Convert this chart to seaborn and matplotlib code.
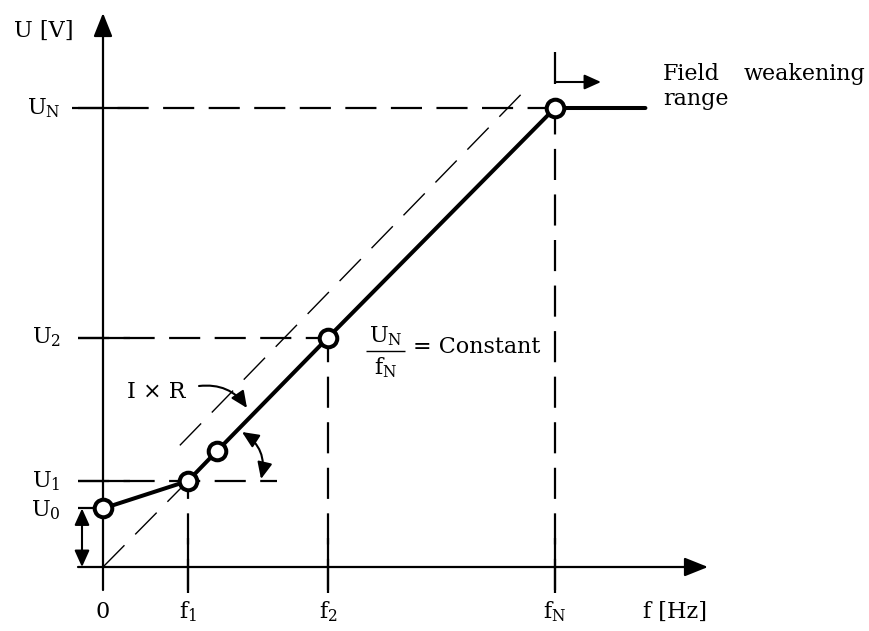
import seaborn as sns
import matplotlib.pyplot as plt
import pandas as pd

# U/f characteristic, f in Hz, U in V
f_curve = [0, 9.4, 12.6, 24.9, 50, 60]
U_curve = [51, 75, 101, 200, 400, 400]
f_marked = [0, 9.4, 12.6, 24.9, 50]
U_marked = [51, 75, 101, 200, 400]

# ideal line from origin, and the line shifted by I x R
f_ideal = [0, 9.4]
U_ideal = [0, 75]
f_shift = [8.5, 47.0]
U_shift = [106, 418]

U_levels = [51, 75, 200, 400]
U_names = ['U$_\\mathregular{0}$', 'U$_\\mathregular{1}$', 'U$_\\mathregular{2}$', 'U$_\\mathregular{N}$']
f_levels = [0, 9.4, 24.9, 50]
f_names = ['0', 'f$_\\mathregular{1}$', 'f$_\\mathregular{2}$', 'f$_\\mathregular{N}$']

sns.set_theme(style='white')
plt.rcParams['font.family'] = ['DejaVu Serif']
plt.rcParams['mathtext.fontset'] = 'dejavuserif'
plt.rcParams['text.color'] = 'black'

# picture scale: origin at (103, 567) px
PX_F = 9.04
PX_U = 1.1475
def fx(px):
    return (px - 103) / PX_F
def uy(py):
    return (567 - py) / PX_U

fig = plt.figure(figsize=(8.7, 6.31), dpi=100)
ax = fig.add_axes([0, 0, 1, 1])
ax.set_xlim(fx(0), fx(870))
ax.set_ylim(uy(631), uy(0))
ax.axis('off')

K = 'black'
dash = (0, (14, 6.5))
FS = 16

# axes with arrows
big_head = '-|>,head_length=0.8,head_width=0.32'
ax.annotate('', xy=(fx(708), 0), xytext=(fx(78), 0),
            arrowprops=dict(arrowstyle=big_head, mutation_scale=18, lw=1.6, color=K,
                            shrinkA=0, shrinkB=0))
ax.annotate('', xy=(0, uy(13)), xytext=(0, uy(590)),
            arrowprops=dict(arrowstyle=big_head, mutation_scale=18, lw=1.6, color=K,
                            shrinkA=0, shrinkB=0))

# guide lines
ax.hlines(U_levels[0], fx(78), 0, color=K, lw=1.6)
ax.hlines(U_levels[1], fx(78), fx(277), color=K, lw=1.6, linestyles=[dash])
ax.hlines(U_levels[2], fx(78), f_levels[2], color=K, lw=1.6, linestyles=[dash])
ax.hlines(U_levels[3], fx(72), f_levels[3], color=K, lw=1.6, linestyles=[dash])
ax.hlines(U_levels[1:], fx(78), fx(130), color=K, lw=1.6)
for fv, uv in zip(f_levels[1:], U_levels[1:]):
    ax.vlines(fv, uy(590), uv, color=K, lw=1.6, linestyles=[dash])
    ax.vlines(fv, uy(593), uy(538), color=K, lw=1.6)
ax.vlines(f_levels[3], uy(84), uy(52), color=K, lw=1.6)

# thin dashed reference lines
sns.lineplot(x=f_ideal, y=U_ideal, ax=ax, color=K, lw=1.0, linestyle=(0, (22, 11)))
sns.lineplot(x=f_shift, y=U_shift, ax=ax, color=K, lw=1.0, linestyle=(0, (22, 11)))

# main characteristic
df = pd.DataFrame({'f': f_curve, 'U': U_curve})
sns.lineplot(data=df, x='f', y='U', sort=False, ax=ax, color=K, lw=2.9)
sns.scatterplot(x=f_marked, y=U_marked, ax=ax, s=160, color='white',
                edgecolor=K, linewidth=2.9, zorder=5)

# small arrows
small = dict(mutation_scale=10, lw=1.5, color=K, shrinkA=0, shrinkB=0)
one = '-|>,head_length=1.0,head_width=0.45'
two = '<|-|>,head_length=1.0,head_width=0.45'
ax.annotate('', xy=(fx(82), 0), xytext=(fx(82), U_levels[0]),
            arrowprops=dict(arrowstyle=two, **small))
ax.annotate('', xy=(fx(601), uy(82)), xytext=(f_levels[3], uy(82)),
            arrowprops=dict(arrowstyle=one, **small))
ax.annotate('', xy=(fx(247), uy(408)), xytext=(fx(199), uy(386)),
            arrowprops=dict(arrowstyle=one, connectionstyle='arc3,rad=-0.3', **small))
ax.annotate('', xy=(fx(261), uy(479)), xytext=(fx(242), uy(432)),
            arrowprops=dict(arrowstyle=two, connectionstyle='arc3,rad=-0.35', **small))

# labels
ax.text(fx(44), uy(31), 'U [V]', fontsize=FS, ha='center', va='center')
for uv, name, py in zip(U_levels, U_names, [510, 481, 337, 108]):
    ax.text(fx(61), uy(py), name, fontsize=FS, ha='right', va='center')
for fv, name in zip(f_levels, f_names):
    ax.text(fv, uy(612), name, fontsize=FS, ha='center', va='center')
ax.text(fx(675), uy(612), 'f [Hz]', fontsize=FS, ha='center', va='center')

ax.text(fx(663), uy(80), 'Field', fontsize=FS, ha='left', va='baseline')
ax.text(fx(865), uy(80), 'weakening', fontsize=FS, ha='right', va='baseline')
ax.text(fx(663), uy(105), 'range', fontsize=FS, ha='left', va='baseline')

ax.text(fx(156), uy(392), 'I × R', fontsize=FS, ha='center', va='center')

ax.text(fx(386), uy(336), 'U$_\\mathregular{N}$', fontsize=FS, ha='center', va='center')
ax.hlines(uy(351), fx(366), fx(405), color=K, lw=1.0)
ax.text(fx(386), uy(368), 'f$_\\mathregular{N}$', fontsize=FS, ha='center', va='center')
ax.text(fx(413), uy(347), '= Constant', fontsize=FS, ha='left', va='center')

fig.savefig('out.png', dpi=100)
